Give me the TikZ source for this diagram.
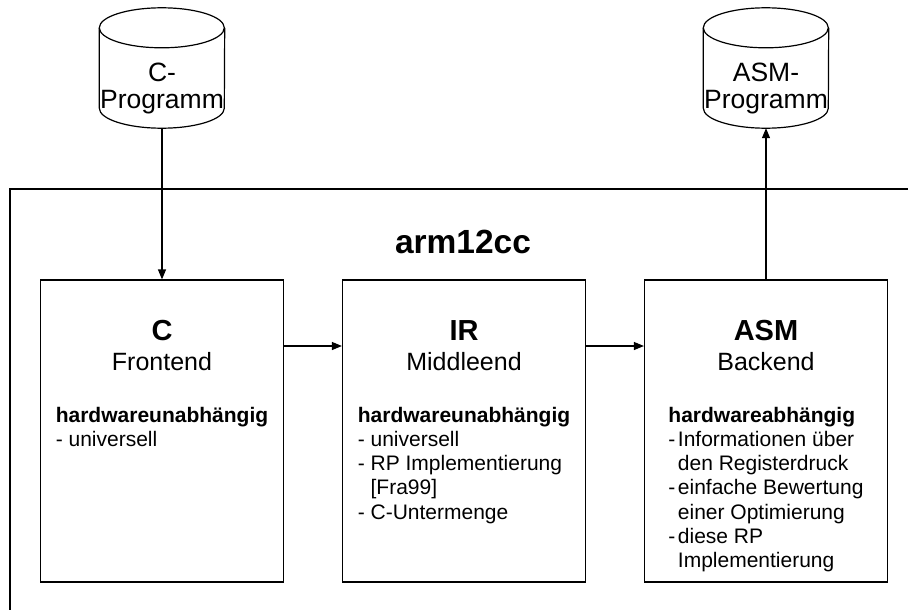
\documentclass[tikz,border=0pt]{standalone}
\usepackage{fontspec}
\setmainfont{Liberation Sans}
\usetikzlibrary{arrows.meta}

% stacked lines whose baseline is the baseline of the first line
\newcommand\leftlines[1]{\vtop{\halign{##\hfil\cr#1\crcr}}}
\newcommand\midlines[1]{\vtop{\halign{\hfil##\hfil\cr#1\crcr}}}
\newcommand\hang{\hphantom{- }}
\newcommand\dashtight{-\kern2.5pt}
\newcommand\hangtight{\hphantom{\dashtight}}

\tikzset{
  wire/.style={draw=black, line width=1.2pt},
  arr/.style={wire, -{Triangle[length=10pt,width=8pt]}},
  stage/.style={draw=black, line width=1.2pt, minimum width=243pt,
    minimum height=302pt, inner sep=0pt},
  drum/.style={minimum width=125pt, minimum height=120pt, inner sep=0pt},
  drumtext/.style={font=\fontsize{26.5}{26.5}\selectfont, anchor=base, inner sep=0pt},
  titletext/.style={font=\fontsize{33.5}{36}\selectfont\bfseries, anchor=base, inner sep=0pt},
  headbig/.style={font=\fontsize{29}{32}\selectfont\bfseries, anchor=base, inner sep=0pt},
  headsub/.style={font=\fontsize{25}{28}\selectfont, anchor=base, inner sep=0pt},
  notes/.style={font=\fontsize{21}{24.3}\selectfont, anchor=base, inner sep=0pt},
}

% database drum drawn inside the bounding node #1 (cap half-height 20pt)
\newcommand\drawdrum[1]{%
  \draw[wire] ([yshift=-20pt]#1.north west)
    arc[start angle=180, end angle=-180, x radius=62.5pt, y radius=20pt];
  \draw[wire] ([yshift=-20pt]#1.north west) -- ([yshift=20pt]#1.south west)
    arc[start angle=180, end angle=360, x radius=62.5pt, y radius=20pt]
    -- ([yshift=-20pt]#1.north east);
}

\begin{document}
\begin{tikzpicture}[x=1pt, y=-1pt]
  \useasboundingbox (0,0) rectangle (908,610);

  % compiler frame
  \coordinate (frameBL) at (10,610);
  \coordinate (frameTL) at (10,189);
  \coordinate (frameTR) at (908,189);
  \draw[wire] (frameBL) -- (frameTL) -- (frameTR);
  \node[titletext] (title) at (463,253) {arm12cc};

  % source and target programs
  \node[drum] (cprog) at (162,68) {};
  \drawdrum{cprog}
  \node[drumtext] (cprogtxt) at (162,81.5) {\midlines{C-\cr Programm}};

  \node[drum] (asmprog) at (766,68) {};
  \drawdrum{asmprog}
  \node[drumtext] (asmprogtxt) at (766,81.5) {\midlines{ASM-\cr Programm}};

  % compiler stages
  \node[stage] (cfe) at (162,431) {};
  \node[stage] (ir)  at (464,431) {};
  \node[stage] (asm) at (766,431) {};

  \node[headbig] (cfehead) at (162,340) {C};
  \node[headsub] (cfesub)  at (162,370) {Frontend};
  \node[notes]   (cfenote) at (162,422) {\leftlines{%
      \textbf{hardwareunabhängig}\cr
      - universell}};

  \node[headbig] (irhead) at (464,340) {IR};
  \node[headsub] (irsub)  at (464,370) {Middleend};
  \node[notes]   (irnote) at (464,422) {\leftlines{%
      \textbf{hardwareunabhängig}\cr
      - universell\cr
      - RP Implementierung\cr
      \hang[Fra99]\cr
      - C-Untermenge}};

  \node[headbig] (asmhead) at (766,340) {ASM};
  \node[headsub] (asmsub)  at (766,370) {Backend};
  \node[notes]   (asmnote) at (766,422) {\leftlines{%
      \textbf{hardwareabhängig}\cr
      \dashtight Informationen über\cr
      \hangtight den Registerdruck\cr
      \dashtight einfache Bewertung\cr
      \hangtight einer Optimierung\cr
      \dashtight diese RP\cr
      \hangtight Implementierung}};

  % data flow
  \draw[arr] (cprog.south) -- (cfe.north);
  \draw[arr] ([yshift=85pt]cfe.east) -- ([yshift=85pt]ir.west);
  \draw[arr] ([yshift=85pt]ir.east) -- ([yshift=85pt]asm.west);
  \draw[arr] (asm.north) -- (asmprog.south);
\end{tikzpicture}
\end{document}
